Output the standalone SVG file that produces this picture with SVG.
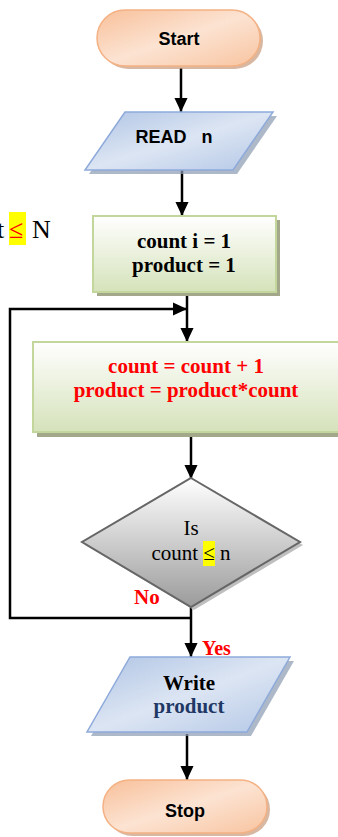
<svg xmlns="http://www.w3.org/2000/svg" width="338" height="837" viewBox="0 0 338 837">
<defs>
<linearGradient id="gOr" x1="0" y1="0" x2="1" y2="1">
<stop offset="0" stop-color="#F8C09A"/><stop offset="0.5" stop-color="#FCE3D2"/><stop offset="1" stop-color="#F8C4A0"/>
</linearGradient>
<linearGradient id="gBl" x1="0" y1="0" x2="1" y2="1">
<stop offset="0" stop-color="#AFC4E4"/><stop offset="0.5" stop-color="#DCE5F3"/><stop offset="1" stop-color="#B3C7E6"/>
</linearGradient>
<linearGradient id="gGr" x1="0" y1="0" x2="0" y2="1">
<stop offset="0" stop-color="#FFFFFF"/><stop offset="1" stop-color="#D5E2BA"/>
</linearGradient>
<linearGradient id="gGy" x1="0" y1="0" x2="0" y2="1">
<stop offset="0" stop-color="#FFFFFF"/><stop offset="1" stop-color="#9B9B9B"/>
</linearGradient>
<marker id="ah" markerUnits="userSpaceOnUse" markerWidth="14" markerHeight="15" viewBox="0 0 15 14" refX="15" refY="7" orient="auto">
<path d="M0,0 L15,7 L0,14 Z" fill="#000"/>
</marker>
</defs>
<style>
.cn{fill:none;stroke:#000;stroke-width:2.5}
.sans{font-family:"Liberation Sans",Arial,sans-serif;font-weight:bold;font-size:18px;fill:#000}
.ser{font-family:"Liberation Serif","Times New Roman",serif;font-size:21px}
.b{font-weight:bold}
.pill{fill:url(#gOr);stroke:#F4B183;stroke-width:1.5}
.pillsh{fill:#C89A7A;opacity:0.7}
.para{fill:url(#gBl);stroke:#8EAADB;stroke-width:1.5}
.parash{fill:#8A9AB0;opacity:0.7}
.box{fill:url(#gGr);stroke:#C3D69B;stroke-width:2}
.boxsh{fill:#A3A88A}
.red{fill:#FF0000}
</style>

<g id="note">
<rect x="9" y="212" width="17" height="33" fill="#FFFF00"/>
<text class="ser" x="-3" y="238" style="font-size:26px"><tspan fill="#000">t</tspan><tspan x="9" fill="#FF0000">≤</tspan><tspan x="32" fill="#000">N</tspan></text>
</g>

<g id="connectors">
<line class="cn" x1="181" y1="68" x2="181" y2="112" marker-end="url(#ah)"/>
<line class="cn" x1="182" y1="170" x2="182" y2="216" marker-end="url(#ah)"/>
<line class="cn" x1="187" y1="296" x2="187" y2="342" marker-end="url(#ah)"/>
<line class="cn" x1="191" y1="436" x2="191" y2="479" marker-end="url(#ah)"/>
<polyline class="cn" points="191,618 10,618 10,309 187,309" marker-end="url(#ah)"/>
<line class="cn" x1="191" y1="607" x2="191" y2="657" marker-end="url(#ah)"/>
<line class="cn" x1="187" y1="734" x2="187" y2="780" marker-end="url(#ah)"/>
</g>

<g id="start">
<rect class="pillsh" x="100" y="13" width="163" height="56" rx="28"/>
<rect class="pill" x="97" y="10" width="163" height="56" rx="28"/>
<text class="sans" x="179" y="45" text-anchor="middle">Start</text>
</g>

<g id="read">
<polygon class="parash" points="129,116 277,116 237,174 89,174"/>
<polygon class="para" points="125,112 273,112 233,170 85,170"/>
<text class="sans" x="174" y="143" text-anchor="middle" xml:space="preserve">READ   n</text>
</g>

<g id="init">
<rect class="boxsh" x="97" y="220" width="183" height="76"/>
<rect class="box" x="93" y="216" width="183" height="76"/>
<text class="ser b" x="184" y="248" text-anchor="middle">count i = 1</text>
<text class="ser b" x="184" y="272" text-anchor="middle">product = 1</text>
</g>

<g id="update">
<rect class="boxsh" x="37" y="346" width="310" height="91"/>
<rect class="box" x="33" y="342" width="310" height="90"/>
<text class="ser b red" x="186" y="373" text-anchor="middle">count = count + 1</text>
<text class="ser b red" x="186" y="397" text-anchor="middle">product = product*count</text>
</g>

<g id="decision">
<polygon points="194,481 303,545 194,610 85,545" fill="#BFBFBF"/>
<polygon points="191,478 300,542 191,607 82,542" fill="url(#gGy)" stroke="#666" stroke-width="2"/>
<text class="ser" x="191" y="535" text-anchor="middle">Is</text>
<rect x="203" y="541" width="12" height="25" fill="#FFFF00"/>
<text class="ser" x="191" y="560" text-anchor="middle">count ≤ n</text>
<text class="ser b red" x="134" y="604">No</text>
<text class="ser b red" x="202" y="655" style="font-size:20px">Yes</text>
</g>

<g id="write">
<polygon class="parash" points="134,661 294,661 251,736 91,736"/>
<polygon class="para" points="130,657 290,657 247,732 87,732"/>
<text class="ser b" x="189" y="690" text-anchor="middle">Write</text>
<text class="ser b" x="189" y="713" text-anchor="middle" fill="#1F3864">product</text>
</g>

<g id="stop">
<rect class="pillsh" x="106" y="783" width="164" height="53" rx="26.5"/>
<rect class="pill" x="103" y="780" width="164" height="53" rx="26.5"/>
<text class="sans" x="185" y="817" text-anchor="middle">Stop</text>
</g>
</svg>
